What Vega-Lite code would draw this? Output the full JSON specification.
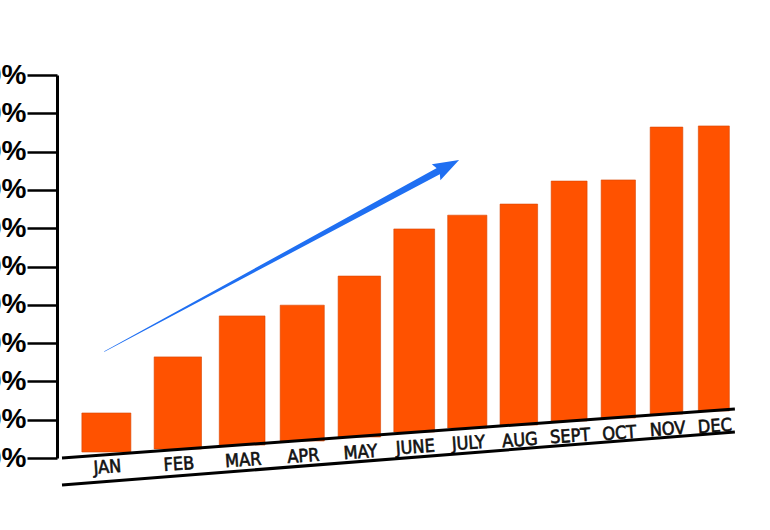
{
  "$schema": "https://vega.github.io/schema/vega-lite/v6.json",
  "width": 713,
  "height": 383,
  "autosize": {"type": "none"},
  "padding": {"left": 57, "top": 75, "right": 0, "bottom": 72},
  "background": "white",
  "config": {"view": {"stroke": null},
    "axisY": {"tickCount": 11, "labelOverlap": false, "labelBound": false}},
  "datasets": {
    "months": [
      {"month": "JAN", "idx": 1, "value": 11.75, "base": 1.57},
      {"month": "FEB", "idx": 2, "value": 26.4, "base": 2.35},
      {"month": "MAR", "idx": 3, "value": 37.1, "base": 3.39},
      {"month": "APR", "idx": 4, "value": 39.9, "base": 4.44},
      {"month": "MAY", "idx": 5, "value": 47.5, "base": 5.48},
      {"month": "JUNE", "idx": 6, "value": 59.8, "base": 6.79},
      {"month": "JULY", "idx": 7, "value": 63.4, "base": 7.83},
      {"month": "AUG", "idx": 8, "value": 66.3, "base": 8.62},
      {"month": "SEPT", "idx": 9, "value": 72.3, "base": 9.66},
      {"month": "OCT", "idx": 10, "value": 72.6, "base": 10.44},
      {"month": "NOV", "idx": 11, "value": 86.4, "base": 11.49},
      {"month": "DEC", "idx": 12, "value": 86.7, "base": 12.27}
    ],
    "lines": [
      {"line": "baseline", "pos": 0.4627, "v": 0},
      {"line": "baseline", "pos": 12.45, "v": 12.8},
      {"line": "lower", "pos": 0.4627, "v": -7.05},
      {"line": "lower", "pos": 12.45, "v": 6.79}
    ],
    "arrow": [
      {"pos": 0.9746, "v": 27.8},
      {"pos": 6.625, "v": 76.2}
    ]
  },
  "layer": [
    {
      "data": {"name": "months"},
      "mark": {"type": "bar", "color": "#ff5200", "stroke": "#d94400", "strokeWidth": 0.6},
      "encoding": {
        "x": {"field": "idx", "type": "quantitative", "axis": null,
          "scale": {"type": "pow", "exponent": 0.8, "domain": [0.4627, 13.1], "nice": false, "zero": false}},
        "y": {"field": "value", "type": "quantitative",
          "scale": {"domain": [0, 100], "nice": false, "zero": true},
          "axis": {"values": [0, 10, 20, 30, 40, 50, 60, 70, 80, 90, 100], "tickCount": 11,
            "labelExpr": "datum.value + '%'", "title": null, "grid": false,
            "labelOverlap": false, "labelBound": false,
            "domainColor": "black", "domainWidth": 3, "tickColor": "black", "tickWidth": 2.5,
            "tickSize": 30, "labelFont": "Liberation Sans", "labelFontSize": 28, "labelFontWeight": "bold",
            "labelColor": "black", "labelPadding": 1, "labelBaseline": "middle"}},
        "y2": {"field": "base"},
        "size": {"field": "idx", "type": "quantitative", "legend": null,
          "scale": {"domain": [1, 12], "range": [49, 31], "zero": false}}
      }
    },
    {
      "data": {"name": "months"},
      "mark": {"type": "text", "font": "DejaVu Sans Condensed", "fontSize": 18, "fontWeight": "normal",
        "color": "#111", "stroke": "#111", "strokeWidth": 0.6,
        "angle": 356, "dy": 16, "baseline": "middle", "align": "center"},
      "encoding": {
        "x": {"field": "idx", "type": "quantitative"},
        "y": {"field": "base", "type": "quantitative"},
        "text": {"field": "month"}
      }
    },
    {
      "data": {"name": "lines"},
      "mark": {"type": "line", "color": "black", "strokeWidth": 3},
      "encoding": {
        "x": {"field": "pos", "type": "quantitative"},
        "y": {"field": "v", "type": "quantitative"},
        "detail": {"field": "line"}
      }
    },
    {
      "data": {"name": "arrow"},
      "mark": {"type": "trail", "color": "#1f6ff2"},
      "encoding": {
        "x": {"field": "pos", "type": "quantitative"},
        "y": {"field": "v", "type": "quantitative"},
        "size": {"field": "pos", "type": "quantitative", "legend": null,
          "scale": {"domain": [0.9746, 6.625], "range": [0.5, 7], "zero": false}}
      }
    },
    {
      "data": {"name": "arrow"},
      "transform": [{"filter": {"field": "pos", "gte": 6}}],
      "mark": {"type": "point", "filled": true, "opacity": 1, "color": "#1f6ff2",
        "shape": "M-1,-0.7L1,0L-1,0.7L-0.7,0Z", "size": 676, "angle": 332},
      "encoding": {
        "x": {"field": "pos", "type": "quantitative"},
        "y": {"field": "v", "type": "quantitative"}
      }
    }
  ],
  "resolve": {"scale": {"size": "independent"}}
}
